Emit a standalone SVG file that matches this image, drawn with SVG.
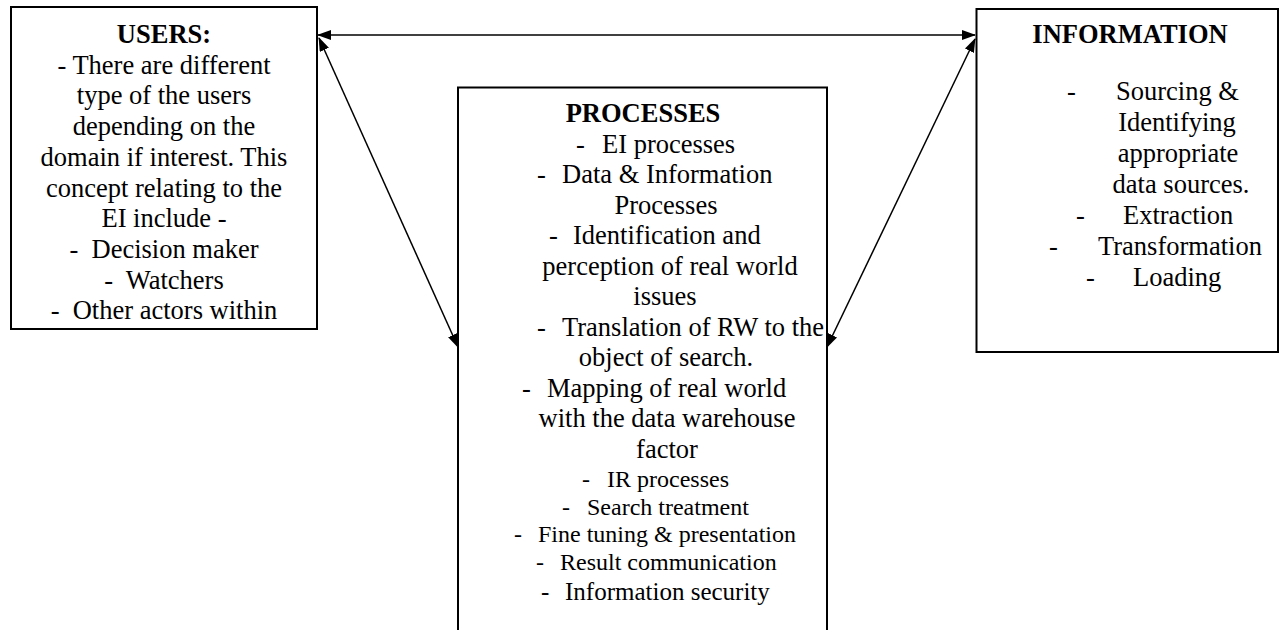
<svg xmlns="http://www.w3.org/2000/svg" width="1280" height="630" viewBox="0 0 1280 630">
<style>
.box{fill:#fff;stroke:#000;stroke-width:2}
.t text{font-size:26.5px;fill:#000;white-space:pre}
.b{font-weight:bold}
.m{text-anchor:middle}
.t .s{font-size:24px}
.conn{stroke:#000;stroke-width:1.5;fill:none;marker-start:url(#ah);marker-end:url(#ah)}
</style>
<defs>
<marker id="ah" viewBox="0 0 14 10" refX="13" refY="5" markerWidth="14" markerHeight="10" markerUnits="userSpaceOnUse" orient="auto-start-reverse">
<path d="M0,0 L14,5 L0,10 Z" fill="#000"/>
</marker>
</defs>
<g id="users" class="t" font-family="'Liberation Serif', 'DejaVu Serif', 'Times New Roman', serif">
<rect class="box" x="11" y="7" width="306" height="322"/>
<text class="b m" x="164" y="43">USERS:</text>
<text class="m" x="164" y="73.7">- There are different</text>
<text class="m" x="164" y="104.4">type of the users</text>
<text class="m" x="164" y="135.1">depending on the</text>
<text class="m" x="164" y="165.8">domain if interest. This</text>
<text class="m" x="164" y="196.5">concept relating to the</text>
<text class="m" x="164" y="227.2">EI include -</text>
<text class="m" x="164" y="257.9">-  Decision maker</text>
<text class="m" x="164" y="288.6">-  Watchers</text>
<text class="m" x="164" y="319.3">-  Other actors within</text>
</g>
<g id="processes" class="t" font-family="'Liberation Serif', 'DejaVu Serif', 'Times New Roman', serif">
<rect class="box" x="458" y="87.5" width="369" height="560"/>
<text class="b m" x="643" y="122">PROCESSES</text>
<text x="576" y="152.5">-</text><text x="602" y="152.5">EI processes</text>
<text x="537" y="183">-</text><text x="562" y="183">Data &amp; Information</text>
<text class="m" x="666" y="213.5">Processes</text>
<text x="549" y="244">-</text><text x="573" y="244">Identification and</text>
<text class="m" x="670" y="274.5">perception of real world</text>
<text class="m" x="665" y="305">issues</text>
<text x="537" y="335.5">-</text><text x="562" y="335.5">Translation of RW to the</text>
<text class="m" x="666" y="366">object of search.</text>
<text x="522" y="396.5">-</text><text x="547" y="396.5">Mapping of real world</text>
<text class="m" x="667" y="427">with the data warehouse</text>
<text class="m" x="667" y="457.5">factor</text>
<text class="s" x="582" y="487">-</text><text class="s" x="607" y="487">IR processes</text>
<text class="s" x="562" y="514.5">-</text><text class="s" x="587" y="514.5">Search treatment</text>
<text class="s" x="514" y="542">-</text><text class="s" x="538" y="542">Fine tuning &amp; presentation</text>
<text class="s" x="536" y="569.5">-</text><text class="s" x="560" y="569.5">Result communication</text>
<text x="541" y="600" style="font-size:25px">-</text><text x="565" y="600" style="font-size:25px">Information security</text>
</g>
<g id="information" class="t" font-family="'Liberation Serif', 'DejaVu Serif', 'Times New Roman', serif">
<rect class="box" x="976.5" y="9" width="301.5" height="343"/>
<text class="b m" x="1130" y="43.3">INFORMATION</text>
<text x="1067" y="100">-</text><text x="1116" y="100">Sourcing &amp;</text>
<text class="m" x="1177" y="131">Identifying</text>
<text class="m" x="1178" y="162">appropriate</text>
<text class="m" x="1181" y="193">data sources.</text>
<text x="1076" y="224">-</text><text x="1123" y="224">Extraction</text>
<text x="1049" y="255">-</text><text x="1098" y="255">Transformation</text>
<text x="1086" y="286">-</text><text x="1133" y="286">Loading</text>
</g>
<g id="connectors">
<line class="conn" x1="318" y1="35" x2="975" y2="35"/>
<line class="conn" x1="319" y1="38" x2="458" y2="347"/>
<line class="conn" x1="975" y1="39" x2="827" y2="347"/>
</g>
</svg>
